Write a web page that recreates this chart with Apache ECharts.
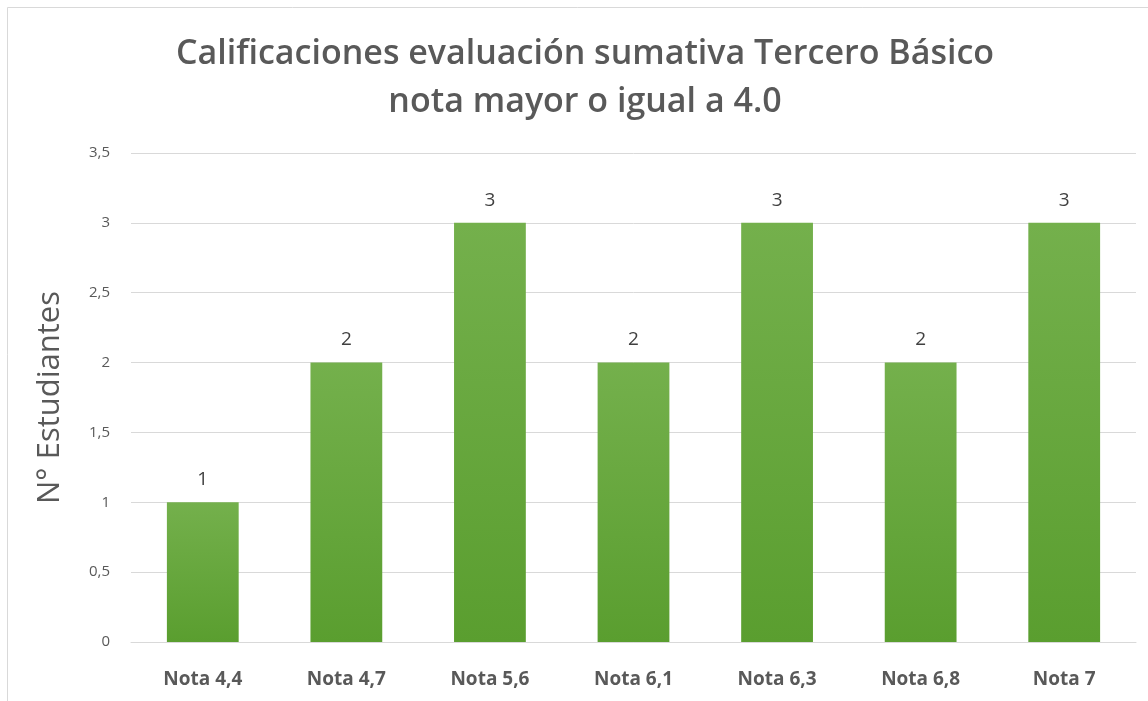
<!DOCTYPE html>
<html><head><meta charset="utf-8">
<script src="https://cdn.jsdelivr.net/npm/echarts@6/dist/echarts.min.js"></script>
<style>html,body{margin:0;padding:0;background:#fff}#c{width:1148px;height:701px}</style>
</head><body><div id="c"></div>
<script>
const categories = ['Nota 4,4','Nota 4,7','Nota 5,6','Nota 6,1','Nota 6,3','Nota 6,8','Nota 7'];
const values = [1,2,3,2,3,2,3];
const titleLines = ['Calificaciones evaluación sumativa Tercero Básico','nota mayor o igual a 4.0'];
const yAxisName = 'N° Estudiantes';

const chart = echarts.init(document.getElementById('c'));
chart.setOption({
  backgroundColor:'#fff',
  animation:false,
  title:{
    text: titleLines.join('\n'),
    left: 580, top: 25, textAlign:'center',
    textStyle:{fontFamily:'Open Sans', fontWeight:600, fontSize:34, color:'#595959', lineHeight:48}
  },
  graphic:[
    {type:'line', shape:{x1:7.5,y1:7.5,x2:1148,y2:7.5}, style:{stroke:'#d9d9d9',lineWidth:1}},
    {type:'line', shape:{x1:7.5,y1:7.5,x2:7.5,y2:701}, style:{stroke:'#d9d9d9',lineWidth:1}}
  ],
  grid:{left:131, right:12, top:153, bottom:59, containLabel:false},
  xAxis:{
    type:'category', data:categories,
    axisLine:{lineStyle:{color:'#d9d9d9'}}, axisTick:{show:false},
    axisLabel:{fontFamily:'Open Sans', fontWeight:700, fontSize:19, color:'#595959', margin:28}
  },
  yAxis:{
    type:'value', min:0, max:3.5, interval:0.5,
    name:yAxisName, nameLocation:'middle', nameGap:65,
    nameTextStyle:{fontFamily:'Open Sans', fontSize:31, color:'#595959'},
    axisLine:{show:false}, axisTick:{show:false},
    splitLine:{lineStyle:{color:'#d9d9d9'}},
    axisLabel:{fontFamily:'Open Sans', fontSize:15, color:'#595959', margin:21,
      formatter:v=>String(v).replace('.',',')}
  },
  series:[{
    type:'bar', data:values, barWidth:'50%',
    itemStyle:{color:new echarts.graphic.LinearGradient(0,0,0,1,[{offset:0,color:'#74b04c'},{offset:1,color:'#5a9e2f'}])},
    label:{show:true, position:'top', distance:13, fontFamily:'Open Sans', fontSize:19, color:'#404040'}
  }]
});
</script></body></html>
